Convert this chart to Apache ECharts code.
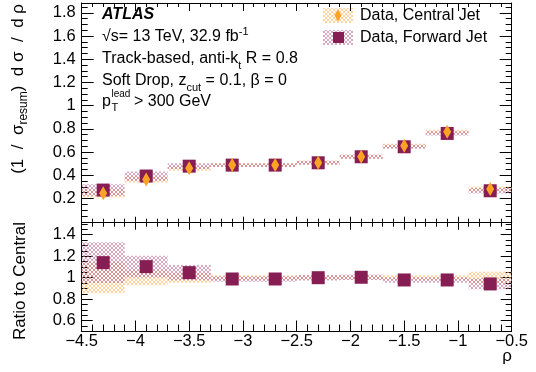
<!DOCTYPE html>
<html>
<head>
<meta charset="utf-8">
<script src="https://cdn.jsdelivr.net/npm/echarts@6/dist/echarts.min.js"></script>
<style>
  html, body { margin: 0; padding: 0; background: #fff; }
  #chart { width: 536px; height: 372px; }
</style>
</head>
<body>
<div id="chart"></div>
<script>
// Bin layout in rho
const binEdges = [-4.5, -4.1, -3.7, -3.3, -2.9, -2.5, -2.1, -1.7, -1.3, -0.9, -0.5];
const binCenters = [-4.3, -3.9, -3.5, -3.1, -2.7, -2.3, -1.9, -1.5, -1.1, -0.7];

// Normalised distributions
const centralValues = [0.245, 0.365, 0.460, 0.488, 0.488, 0.508, 0.560, 0.654, 0.775, 0.282];
const centralErrors = [0.037, 0.027, 0.020, 0.016, 0.016, 0.017, 0.017, 0.018, 0.018, 0.022];
const forwardValues = [0.273, 0.394, 0.479, 0.488, 0.488, 0.508, 0.560, 0.646, 0.761, 0.267];
const forwardErrors = [0.050, 0.040, 0.025, 0.016, 0.016, 0.017, 0.017, 0.018, 0.018, 0.024];

// Forward / Central ratio
const ratioValues = [1.14, 1.103, 1.047, 0.988, 0.988, 1.0, 1.004, 0.979, 0.979, 0.942];
const ratioCentralErrors = [0.145, 0.07, 0.046, 0.022, 0.022, 0.02, 0.02, 0.022, 0.022, 0.055];
const ratioForwardErrors = [0.19, 0.10, 0.07, 0.025, 0.025, 0.025, 0.025, 0.025, 0.025, 0.05];

const FONT = '"Liberation Sans", Arial, Helvetica, sans-serif';
const PURPLE = '#861e54';
const ORANGE = '#fca326';

// Fine cross-hatch fill used for the uncertainty bands
function hatch(color) {
  const c = document.createElement('canvas');
  c.width = 4; c.height = 4;
  const ctx = c.getContext('2d');
  ctx.fillStyle = color;
  for (let i = 0; i < 4; i++) {
    ctx.fillRect(i, 3 - i, 1, 1);
    ctx.fillRect(i, i, 1, 1);
  }
  return { image: c, repeat: 'repeat' };
}
const orangeHatch = hatch('rgba(253,180,95,0.6)');
const purpleHatch = hatch('rgba(185,95,140,0.55)');

const fmtMinus = v => String(v).replace('-', '\u2212');

function bandSeries(values, errors, fill, xi, yi) {
  return {
    type: 'custom',
    xAxisIndex: xi, yAxisIndex: yi,
    data: values.map((v, i) => [binEdges[i], binEdges[i + 1], v - errors[i], v + errors[i]]),
    encode: { x: [0, 1], y: [2, 3] },
    renderItem: (params, api) => {
      const p0 = api.coord([api.value(0), api.value(3)]);
      const p1 = api.coord([api.value(1), api.value(2)]);
      return {
        type: 'rect',
        shape: { x: p0[0], y: p0[1], width: p1[0] - p0[0], height: p1[1] - p0[1] },
        style: { fill: fill }
      };
    },
    silent: true
  };
}

const diamond = 'path://M5,0 L10,10 L5,20 L0,10 Z';

function xAx(grid, pos, showLabel, len, minorLen) {
  return {
    type: 'value', gridIndex: grid, position: pos,
    min: -4.5, max: -0.5, interval: 0.5,
    axisLine: { show: true, onZero: false, lineStyle: { color: '#000', width: 1 } },
    axisTick: { show: true, inside: true, length: len, lineStyle: { color: '#000' } },
    minorTick: { show: true, splitNumber: 5, length: minorLen, lineStyle: { color: '#000' } },
    splitLine: { show: false },
    axisLabel: {
      show: showLabel, formatter: fmtMinus, color: '#000',
      fontFamily: FONT, fontSize: 16.5, margin: 1
    }
  };
}

function yAx(grid, pos, showLabel, range, len, minorLen) {
  const ax = {
    type: 'value', gridIndex: grid, position: pos,
    min: range[0], max: range[1],
    axisLine: { show: true, onZero: false, lineStyle: { color: '#000', width: 1 } },
    axisTick: { show: true, inside: true, length: len, lineStyle: { color: '#000' } },
    minorTick: { show: true, splitNumber: 4, length: minorLen, lineStyle: { color: '#000' } },
    splitLine: { show: false },
    axisLabel: {
      show: showLabel, color: '#000', fontFamily: FONT, fontSize: 16.5, margin: 6,
      showMinLabel: false, showMaxLabel: false
    }
  };
  if (range[0] === 0) { ax.interval = 0.2; }
  else { ax.minInterval = 0.2; ax.maxInterval = 0.2; ax.splitNumber = 5; }
  return ax;
}

const chart = echarts.init(document.getElementById('chart'), null, { renderer: 'canvas' });

const txt = (x, y, text, extra, more) => Object.assign({
  type: 'text', x: x, y: y,
  style: Object.assign({ text: text, fill: '#000', font: '16px ' + FONT, textVerticalAlign: 'middle' }, extra || {})
}, more || {});

chart.setOption({
  animation: false,
  backgroundColor: '#fff',
  grid: [
    { left: 81.7, top: 3, width: 430, height: 218.75 },
    { left: 81.7, top: 221.75, width: 430, height: 109.75 }
  ],
  xAxis: [
    xAx(0, 'bottom', false, 5, 3),
    xAx(0, 'top', false, 8, 4),
    xAx(1, 'bottom', true, 11, 7),
    xAx(1, 'top', false, 8, 5)
  ],
  yAxis: [
    yAx(0, 'left', true, [0, 1.885], 12, 6),
    yAx(0, 'right', false, [0, 1.885], 12, 6),
    yAx(1, 'left', true, [0.5, 1.52], 11, 6),
    yAx(1, 'right', false, [0.5, 1.52], 11, 6)
  ],
  series: [
    bandSeries(centralValues, centralErrors, orangeHatch, 0, 0),
    bandSeries(forwardValues, forwardErrors, purpleHatch, 0, 0),
    {
      type: 'scatter', name: 'Data, Forward Jet', xAxisIndex: 0, yAxisIndex: 0,
      data: binCenters.map((x, i) => [x, forwardValues[i]]),
      symbol: 'rect', symbolSize: 13, itemStyle: { color: PURPLE, opacity: 1 }, silent: true
    },
    {
      type: 'scatter', name: 'Data, Central Jet', xAxisIndex: 0, yAxisIndex: 0,
      data: binCenters.map((x, i) => [x, centralValues[i]]),
      symbol: diamond, symbolSize: [8, 14], itemStyle: { color: ORANGE, opacity: 1 }, silent: true
    },
    bandSeries(binCenters.map(() => 1), ratioCentralErrors, orangeHatch, 2, 2),
    bandSeries(ratioValues, ratioForwardErrors, purpleHatch, 2, 2),
    {
      type: 'scatter', name: 'Ratio', xAxisIndex: 2, yAxisIndex: 2,
      data: binCenters.map((x, i) => [x, ratioValues[i]]),
      symbol: 'rect', symbolSize: 13, itemStyle: { color: PURPLE, opacity: 1 }, silent: true
    }
  ],
  graphic: [
    // Axis titles
    {
      type: 'text', x: 18, y: 4, rotation: Math.PI / 2,
      style: {
        text: '(1  /  σ{sub|resum})  d σ  /  d ρ', fill: '#000', font: '17px ' + FONT,
        textAlign: 'right', textVerticalAlign: 'middle',
        rich: { sub: { fontSize: 12, fontFamily: FONT, verticalAlign: 'bottom', lineHeight: 24 } }
      }
    },
    txt(20, 222, 'Ratio to Central', { font: '17px ' + FONT, textAlign: 'right' }, { rotation: Math.PI / 2 }),
    txt(512, 356, 'ρ', { font: '17px ' + FONT, textAlign: 'right' }),
    // Labels
    txt(102, 15, 'ATLAS', { font: 'italic bold 16px ' + FONT }),
    txt(102, 37, '√s= 13 TeV, 32.9 fb{sup|-1}', {
      rich: { sup: { fontSize: 11, fontFamily: FONT, verticalAlign: 'top', lineHeight: 22 } }
    }),
    txt(102, 59, 'Track-based, anti-k{sub|t} R = 0.8', {
      rich: { sub: { fontSize: 11, fontFamily: FONT, verticalAlign: 'bottom', lineHeight: 24 } }
    }),
    txt(102, 81, 'Soft Drop, z{sub|cut} = 0.1, β = 0', {
      rich: { sub: { fontSize: 11, fontFamily: FONT, verticalAlign: 'bottom', lineHeight: 24 } }
    }),
    txt(102, 102, 'p'),
    txt(111.5, 94.5, 'lead', { font: '10px ' + FONT }),
    txt(111.5, 108, 'T', { font: '11px ' + FONT }),
    txt(134, 102, '> 300 GeV'),
    // Legend
    { type: 'rect', shape: { x: 323, y: 8, width: 30, height: 15 }, style: { fill: orangeHatch } },
    { type: 'polygon', shape: { points: [[338, 9.5], [341.5, 15.5], [338, 21.5], [334.5, 15.5]] }, style: { fill: ORANGE } },
    txt(360, 15.5, 'Data, Central Jet'),
    { type: 'rect', shape: { x: 323, y: 30, width: 30, height: 15 }, style: { fill: purpleHatch } },
    { type: 'rect', shape: { x: 333, y: 32, width: 11, height: 11 }, style: { fill: PURPLE } },
    txt(360, 37.5, 'Data, Forward Jet')
  ]
});
</script>
</body>
</html>
